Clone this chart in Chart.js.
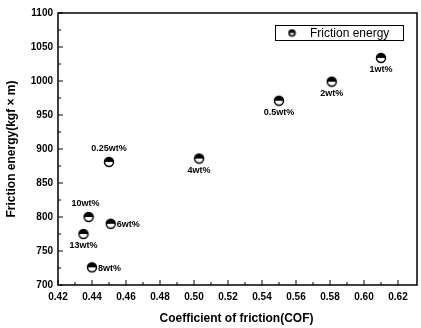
<!DOCTYPE html>
<html>
<head>
<meta charset="utf-8">
<script src="https://cdn.jsdelivr.net/npm/chart.js@4"></script>
<style>
  html, body { margin: 0; padding: 0; background: #fff; }
  #wrap { width: 421px; height: 328px; }
</style>
</head>
<body>
<div id="wrap"><canvas id="chart" width="421" height="328"></canvas></div>
<script>
// values
const cof = [0.450, 0.503, 0.610, 0.581, 0.550, 0.438, 0.451, 0.435, 0.440];
const energy = [881, 886, 1034, 999, 971, 800, 790, 775, 726];
const pointLabels = ['0.25wt%', '4wt%', '1wt%', '2wt%', '0.5wt%', '10wt%', '6wt%', '13wt%', '8wt%'];
// where each label sits: a = above, b = below, r = right
const labelSide = ['a', 'b', 'b', 'b', 'b', 'a', 'r', 'b', 'r'];
const xTicks = [0.42, 0.44, 0.46, 0.48, 0.50, 0.52, 0.54, 0.56, 0.58, 0.60, 0.62];
const yTicks = [700, 750, 800, 850, 900, 950, 1000, 1050, 1100];

// half filled circle marker
function makeMarker(r) {
    const c = document.createElement('canvas');
    const s = r * 2 + 3;
    c.width = s; c.height = s;
    const g = c.getContext('2d');
    const m = s / 2;
    g.fillStyle = '#fff';
    g.beginPath(); g.arc(m, m, r, 0, Math.PI * 2); g.fill();
    g.fillStyle = '#000';
    g.beginPath(); g.arc(m, m, r, Math.PI, 0); g.closePath(); g.fill();
    g.strokeStyle = '#000';
    g.lineWidth = 1.5;
    g.beginPath(); g.arc(m, m, r, 0, Math.PI * 2); g.stroke();
    return c;
}
const marker = makeMarker(4.5);
const smallMarker = makeMarker(3);

// frame, inward ticks, point labels and legend
const decor = {
    id: 'decor',
    afterDraw(chart) {
        const ctx = chart.ctx;
        const a = chart.chartArea;
        const xs = chart.scales.x, ys = chart.scales.y;
        ctx.save();
        ctx.strokeStyle = '#000';
        ctx.lineWidth = 1.5;
        ctx.strokeRect(a.left, a.top, a.right - a.left + 2, a.bottom - a.top);
        ctx.lineWidth = 1;
        ctx.beginPath();
        for (let v = 0.42; v < 0.63; v += 0.01) {
            const px = xs.getPixelForValue(v);
            const major = Math.round(v * 100) % 2 === 0;
            ctx.moveTo(px, a.bottom);
            ctx.lineTo(px, a.bottom - (major ? 5 : 3));
        }
        for (let v = 700; v <= 1100; v += 25) {
            const py = ys.getPixelForValue(v);
            ctx.moveTo(a.left, py);
            ctx.lineTo(a.left + (v % 50 === 0 ? 5 : 3), py);
        }
        ctx.stroke();

        ctx.fillStyle = '#000';
        ctx.font = 'bold 9px "Liberation Sans", Arial';
        ctx.textBaseline = 'middle';
        cof.forEach((c, i) => {
            const px = xs.getPixelForValue(c);
            const py = ys.getPixelForValue(energy[i]);
            const side = labelSide[i];
            if (side === 'r') {
                ctx.textAlign = 'left';
                ctx.fillText(pointLabels[i], px + 6, py + 1);
            } else {
                ctx.textAlign = 'center';
                const dx = i === 5 ? -3 : 0;
                ctx.fillText(pointLabels[i], px + dx, side === 'a' ? py - 13 : py + 12);
            }
        });

        // legend box
        ctx.lineWidth = 1;
        ctx.strokeRect(275.5, 25.5, 128, 15);
        ctx.drawImage(smallMarker, 292 - smallMarker.width / 2, 33 - smallMarker.height / 2);
        ctx.font = '12px "Liberation Sans", Arial';
        ctx.textAlign = 'left';
        ctx.fillText('Friction energy', 310, 33.5);
        ctx.restore();
    }
};

const ctx = document.getElementById('chart').getContext('2d');
const myChart = new Chart(ctx, {
    type: 'scatter',
    data: {
        datasets: [{
            label: 'Friction energy',
            data: cof.map((c, i) => ({ x: c, y: energy[i] })),
            pointStyle: marker,
            pointRadius: 5
        }]
    },
    options: {
        responsive: false,
        animation: false,
        layout: { padding: { top: 13, right: 0, left: 0, bottom: 0 } },
        plugins: { legend: { display: false }, tooltip: { enabled: false } },
        scales: {
            x: {
                min: 0.42,
                max: 0.63,
                afterBuildTicks: s => { s.ticks = xTicks.map(v => ({ value: v })); },
                afterFit: s => { s.height = 43; },
                grid: { display: false, drawTicks: false },
                border: { display: false },
                ticks: {
                    color: '#000',
                    font: { family: '"Liberation Sans", Arial', size: 10, weight: 'bold' },
                    padding: 6,
                    maxRotation: 0,
                    callback: v => v.toFixed(2)
                },
                title: {
                    display: true,
                    text: 'Coefficient of friction(COF)',
                    color: '#000',
                    font: { family: '"Liberation Sans", Arial', size: 12, weight: 'bold' },
                    padding: { top: 6, bottom: 2 }
                }
            },
            y: {
                min: 700,
                max: 1100,
                afterBuildTicks: s => { s.ticks = yTicks.map(v => ({ value: v })); },
                afterFit: s => { s.width = 58; },
                grid: { display: false, drawTicks: false },
                border: { display: false },
                ticks: {
                    color: '#000',
                    font: { family: '"Liberation Sans", Arial', size: 10, weight: 'bold' },
                    padding: 5,
                    callback: v => String(v)
                },
                title: {
                    display: true,
                    text: 'Friction energy(kgf × m)',
                    color: '#000',
                    font: { family: '"Liberation Sans", Arial', size: 12, weight: 'bold' },
                    padding: { top: 4, bottom: 0 }
                }
            }
        }
    },
    plugins: [decor]
});
</script>
</body>
</html>
